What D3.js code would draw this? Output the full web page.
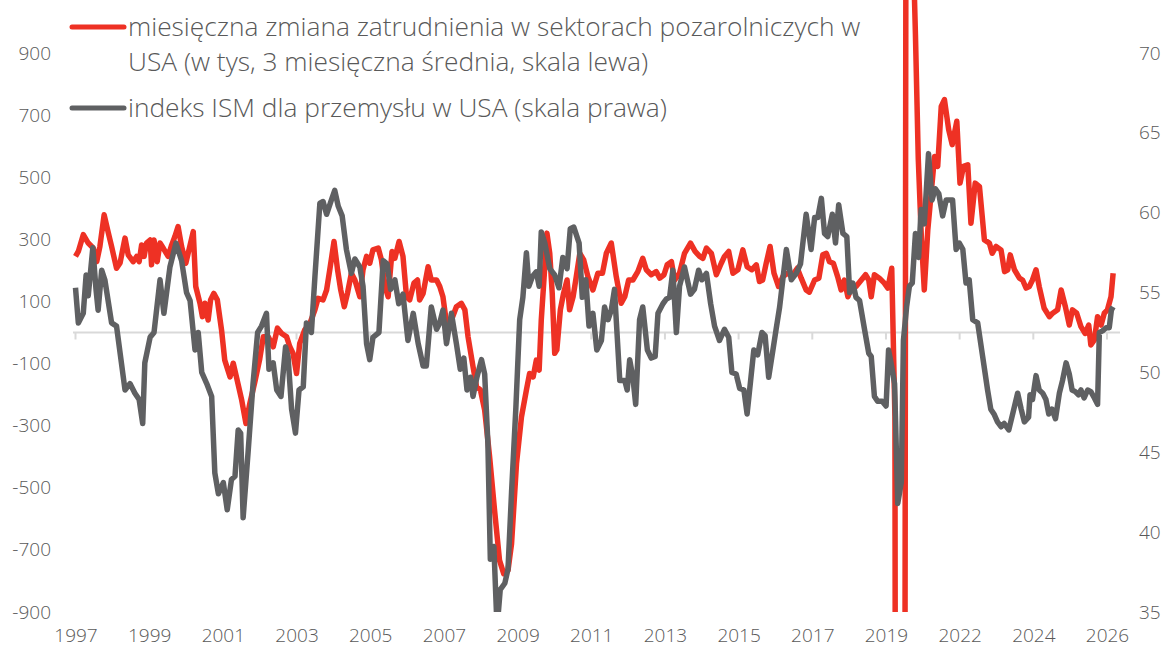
<!DOCTYPE html>
<html lang="pl">
<head>
<meta charset="UTF-8">
<title>Zatrudnienie vs ISM</title>
<script src="https://d3js.org/d3.v7.min.js"></script>
<style>
  body { margin: 0; background: #fff; }
  text { font-family: "Open Sans", Lato, sans-serif; font-weight: 300; fill: #595959; }
  .tick text { font-size: 19px; }
  .legend text { font-size: 26.3px; }
</style>
</head>
<body>
<div id="chart"></div>
<script>
// DATA (decimal year, value)
// monthly change of nonfarm payrolls, 3-month average, thousands (left scale)
const payrolls = [
  [1997.00, 245], [1997.08, 261], [1997.22, 315], [1997.36, 288], [1997.50, 272], [1997.60, 228],
  [1997.69, 277], [1997.81, 379], [1997.93, 320], [1998.02, 277], [1998.16, 207], [1998.26, 224],
  [1998.40, 304], [1998.49, 250], [1998.63, 228], [1998.73, 245], [1998.80, 228], [1998.87, 282],
  [1998.94, 245], [1999.01, 288], [1999.11, 298], [1999.15, 218], [1999.22, 298], [1999.31, 228],
  [1999.39, 288], [1999.48, 272], [1999.62, 245], [1999.72, 282], [1999.81, 309], [1999.90, 341],
  [2000.00, 277], [2000.12, 223], [2000.22, 272], [2000.33, 325], [2000.40, 148], [2000.52, 94],
  [2000.59, 51], [2000.66, 94], [2000.75, 40], [2000.82, 105], [2000.91, 126], [2001.01, 105],
  [2001.13, 8], [2001.22, -89], [2001.37, -143], [2001.46, -99], [2001.55, -143], [2001.70, -218],
  [2001.82, -293], [2001.93, -228], [2002.07, -160], [2002.21, -85], [2002.31, -14], [2002.45, -14],
  [2002.59, -46], [2002.71, 14], [2002.83, -3], [2002.97, -14], [2003.06, -46], [2003.15, -67],
  [2003.25, -132], [2003.34, -35], [2003.48, 8], [2003.63, 30], [2003.77, 73], [2003.86, 110],
  [2004.00, 105], [2004.10, 137], [2004.19, 202], [2004.31, 293], [2004.41, 202], [2004.50, 137],
  [2004.60, 83], [2004.69, 126], [2004.80, 191], [2004.90, 169], [2005.04, 115], [2005.13, 202],
  [2005.23, 245], [2005.32, 223], [2005.41, 266], [2005.56, 272], [2005.65, 234], [2005.75, 148],
  [2005.84, 115], [2005.95, 261], [2006.03, 239], [2006.15, 293], [2006.26, 245], [2006.36, 115],
  [2006.45, 105], [2006.57, 159], [2006.67, 169], [2006.73, 105], [2006.83, 126], [2006.97, 212],
  [2007.06, 169], [2007.21, 169], [2007.30, 148], [2007.39, 115], [2007.49, 30], [2007.63, 40],
  [2007.77, 83], [2007.91, 94], [2008.01, 73], [2008.10, -14], [2008.24, -110], [2008.34, -175],
  [2008.45, -185], [2008.57, -250], [2008.71, -401], [2008.85, -573], [2008.99, -734], [2009.11, -777],
  [2009.23, -766], [2009.33, -680], [2009.47, -422], [2009.61, -272], [2009.75, -185], [2009.84, -132],
  [2009.94, -143], [2010.03, -89], [2010.11, -121], [2010.17, 40], [2010.27, 212], [2010.33, 320],
  [2010.41, 255], [2010.48, 126], [2010.55, -67], [2010.61, -56], [2010.71, 73], [2010.80, 126],
  [2010.90, 169], [2010.97, 73], [2011.07, 115], [2011.16, 180], [2011.26, 255], [2011.37, 234],
  [2011.49, 180], [2011.63, 137], [2011.77, 191], [2011.90, 191], [2012.01, 255], [2012.15, 288],
  [2012.29, 180], [2012.43, 94], [2012.53, 115], [2012.64, 169], [2012.76, 169], [2012.90, 196],
  [2013.04, 239], [2013.14, 202], [2013.28, 186], [2013.42, 196], [2013.52, 175], [2013.64, 186],
  [2013.73, 218], [2013.85, 228], [2013.94, 169], [2014.08, 191], [2014.22, 255], [2014.39, 288],
  [2014.52, 261], [2014.65, 245], [2014.74, 239], [2014.84, 272], [2014.98, 255], [2015.12, 186],
  [2015.26, 223], [2015.35, 245], [2015.47, 261], [2015.59, 191], [2015.73, 202], [2015.87, 266],
  [2015.99, 212], [2016.12, 202], [2016.25, 218], [2016.34, 164], [2016.43, 169], [2016.53, 223],
  [2016.64, 277], [2016.75, 191], [2016.88, 148], [2017.00, 180], [2017.14, 191], [2017.28, 186],
  [2017.41, 207], [2017.52, 175], [2017.66, 137], [2017.75, 130], [2017.90, 169], [2018.02, 175],
  [2018.13, 250], [2018.23, 255], [2018.32, 228], [2018.43, 223], [2018.55, 180], [2018.65, 137],
  [2018.74, 169], [2018.84, 115], [2018.96, 148], [2019.07, 148], [2019.22, 169], [2019.34, 186],
  [2019.43, 169], [2019.50, 115], [2019.59, 186], [2019.73, 175], [2019.87, 159], [2019.97, 143],
  [2020.08, 207], [2020.17, -270], [2020.25, -7200], [2020.33, -6370], [2020.42, -4300], [2020.50, 3100],
  [2020.58, 2670], [2020.67, 1300], [2020.75, 960], [2020.83, 560], [2020.92, 300], [2021.00, 137],
  [2021.10, 331], [2021.29, 567], [2021.38, 535], [2021.48, 728], [2021.57, 750], [2021.69, 653],
  [2021.79, 605], [2021.92, 680], [2022.01, 481], [2022.11, 535], [2022.23, 540], [2022.32, 352],
  [2022.44, 481], [2022.56, 470], [2022.70, 298], [2022.84, 288], [2022.92, 255], [2023.03, 277],
  [2023.17, 266], [2023.27, 196], [2023.36, 202], [2023.43, 250], [2023.55, 202], [2023.69, 175],
  [2023.78, 169], [2023.88, 143], [2023.97, 148], [2024.06, 169], [2024.16, 202], [2024.25, 148],
  [2024.39, 78], [2024.54, 51], [2024.63, 62], [2024.77, 73], [2024.87, 137], [2024.99, 83],
  [2025.10, 24], [2025.19, 73], [2025.31, 62], [2025.43, 19], [2025.55, -3], [2025.65, 24],
  [2025.71, -40], [2025.81, -24], [2025.90, 51], [2026.00, 24], [2026.09, 62], [2026.18, 73],
  [2026.28, 115], [2026.34, 191]
];

// ISM manufacturing index (right scale)
const ism = [
  [1997.00, 55.3], [1997.08, 53.1], [1997.22, 53.7], [1997.30, 56.1], [1997.36, 54.8], [1997.49, 57.8],
  [1997.58, 55.2], [1997.64, 53.9], [1997.74, 56.4], [1997.83, 55.8], [1998.02, 53.1], [1998.16, 52.9],
  [1998.40, 48.9], [1998.54, 49.3], [1998.68, 48.7], [1998.80, 48.3], [1998.90, 46.8], [1998.96, 50.6],
  [1999.11, 52.2], [1999.22, 52.5], [1999.39, 55.8], [1999.50, 53.7], [1999.67, 56.6], [1999.84, 58.1],
  [2000.00, 57.0], [2000.14, 55.0], [2000.24, 54.5], [2000.38, 51.4], [2000.47, 52.5], [2000.57, 50.0],
  [2000.71, 49.3], [2000.85, 48.5], [2000.94, 43.7], [2001.04, 42.4], [2001.18, 43.1], [2001.29, 41.4],
  [2001.41, 43.3], [2001.51, 43.5], [2001.60, 46.4], [2001.67, 46.2], [2001.74, 40.9], [2001.88, 45.0],
  [2002.02, 49.3], [2002.15, 52.5], [2002.26, 52.9], [2002.40, 53.7], [2002.47, 50.2], [2002.59, 50.6],
  [2002.69, 48.9], [2002.81, 48.5], [2002.94, 51.6], [2003.01, 51.0], [2003.11, 47.7], [2003.22, 46.2],
  [2003.32, 48.9], [2003.44, 49.1], [2003.53, 53.1], [2003.67, 52.5], [2003.77, 56.0], [2003.91, 60.6],
  [2004.00, 60.7], [2004.10, 59.9], [2004.22, 60.7], [2004.33, 61.4], [2004.43, 60.4], [2004.54, 59.8],
  [2004.66, 57.7], [2004.80, 56.2], [2004.90, 57.1], [2005.04, 56.6], [2005.13, 55.4], [2005.23, 51.8],
  [2005.32, 50.8], [2005.41, 52.2], [2005.58, 52.5], [2005.70, 57.0], [2005.81, 56.8], [2005.91, 55.2],
  [2006.03, 55.8], [2006.14, 54.3], [2006.26, 54.9], [2006.40, 52.0], [2006.55, 53.7], [2006.69, 51.8],
  [2006.83, 50.4], [2006.92, 50.4], [2007.06, 54.1], [2007.21, 52.7], [2007.30, 53.1], [2007.39, 53.9],
  [2007.49, 51.8], [2007.63, 53.7], [2007.77, 51.8], [2007.88, 50.2], [2007.98, 50.9], [2008.07, 48.9],
  [2008.17, 49.7], [2008.24, 48.5], [2008.35, 49.7], [2008.48, 50.8], [2008.57, 49.9], [2008.66, 45.6],
  [2008.73, 38.3], [2008.83, 39.1], [2008.92, 34.0], [2009.01, 36.4], [2009.14, 36.8], [2009.23, 37.7],
  [2009.33, 42.5], [2009.45, 47.7], [2009.56, 53.3], [2009.65, 54.7], [2009.75, 57.5], [2009.82, 55.4],
  [2009.92, 56.0], [2010.03, 56.3], [2010.11, 55.4], [2010.17, 58.8], [2010.27, 58.1], [2010.41, 56.5],
  [2010.55, 56.1], [2010.67, 55.3], [2010.78, 57.2], [2010.90, 56.5], [2010.99, 59.0], [2011.09, 59.1],
  [2011.24, 58.1], [2011.33, 54.7], [2011.43, 55.8], [2011.52, 52.9], [2011.63, 53.7], [2011.74, 51.4],
  [2011.87, 52.0], [2011.96, 54.1], [2012.06, 53.3], [2012.15, 53.9], [2012.24, 55.2], [2012.39, 49.5],
  [2012.53, 49.5], [2012.60, 48.9], [2012.67, 50.8], [2012.76, 49.7], [2012.84, 48.0], [2012.95, 53.3],
  [2013.04, 54.1], [2013.17, 51.4], [2013.28, 50.9], [2013.39, 51.0], [2013.47, 53.7], [2013.61, 54.3],
  [2013.71, 54.6], [2013.80, 54.7], [2013.89, 56.4], [2013.99, 52.5], [2014.08, 55.4], [2014.22, 56.6],
  [2014.39, 54.9], [2014.50, 55.2], [2014.62, 56.4], [2014.71, 55.8], [2014.84, 56.2], [2014.96, 54.3],
  [2015.07, 52.9], [2015.21, 52.0], [2015.35, 52.7], [2015.47, 52.2], [2015.56, 50.0], [2015.68, 49.9],
  [2015.78, 49.0], [2015.90, 48.9], [2015.99, 47.4], [2016.09, 49.5], [2016.18, 51.4], [2016.29, 51.1],
  [2016.41, 52.5], [2016.50, 52.3], [2016.60, 49.7], [2016.72, 51.4], [2016.81, 52.7], [2016.91, 54.1],
  [2017.00, 55.8], [2017.10, 57.7], [2017.24, 55.8], [2017.38, 56.2], [2017.50, 56.8], [2017.66, 59.9],
  [2017.75, 58.5], [2017.80, 57.7], [2017.90, 59.7], [2017.99, 59.7], [2018.09, 60.9], [2018.18, 58.7],
  [2018.27, 58.5], [2018.40, 59.9], [2018.49, 58.1], [2018.58, 60.5], [2018.70, 58.7], [2018.81, 58.5],
  [2018.89, 55.0], [2018.98, 55.6], [2019.07, 54.7], [2019.17, 54.5], [2019.31, 52.7], [2019.43, 51.2],
  [2019.50, 51.0], [2019.59, 48.5], [2019.68, 48.2], [2019.81, 48.2], [2019.92, 47.9], [2019.99, 51.4],
  [2020.06, 50.6], [2020.16, 49.3], [2020.25, 41.8], [2020.35, 43.1], [2020.41, 52.0], [2020.50, 54.1],
  [2020.58, 55.4], [2020.66, 55.6], [2020.75, 58.7], [2020.84, 57.2], [2020.91, 60.2], [2021.00, 59.3],
  [2021.12, 63.7], [2021.22, 60.8], [2021.31, 61.5], [2021.41, 61.2], [2021.52, 59.8], [2021.62, 60.8],
  [2021.71, 60.8], [2021.80, 60.8], [2021.90, 57.7], [2021.99, 58.1], [2022.09, 57.7], [2022.18, 55.6],
  [2022.27, 55.8], [2022.37, 53.3], [2022.51, 53.1], [2022.65, 51.0], [2022.79, 48.9], [2022.88, 47.7],
  [2022.97, 47.4], [2023.07, 46.9], [2023.17, 46.6], [2023.26, 46.8], [2023.39, 46.4], [2023.50, 47.4],
  [2023.64, 48.7], [2023.74, 47.7], [2023.83, 46.9], [2023.95, 47.2], [2023.99, 48.6], [2024.06, 48.3],
  [2024.16, 49.8], [2024.25, 48.9], [2024.35, 48.7], [2024.44, 48.3], [2024.52, 47.4], [2024.61, 47.7],
  [2024.71, 47.1], [2024.82, 48.7], [2024.91, 49.5], [2025.01, 50.6], [2025.10, 49.9], [2025.18, 48.9],
  [2025.27, 48.8], [2025.36, 48.6], [2025.43, 48.9], [2025.52, 48.4], [2025.62, 48.9], [2025.71, 48.8],
  [2025.81, 48.4], [2025.90, 48.0], [2025.95, 52.5], [2026.04, 52.6], [2026.14, 52.8], [2026.23, 52.8],
  [2026.29, 53.9], [2026.34, 54.1]
];

const leftTicks = [-900, -700, -500, -300, -100, 100, 300, 500, 700, 900];
const rightTicks = [35, 40, 45, 50, 55, 60, 65, 70];
const yearLabels = ["1997", "1999", "2001", "2003", "2005", "2007", "2009", "2011",
                    "2013", "2015", "2017", "2019", "2022", "2024", "2026"];
const labelEveryMonths = 25;
const legendLabels = [
  ["miesięczna zmiana zatrudnienia w sektorach pozarolniczych w",
   "USA (w tys, 3 miesięczna średnia, skala lewa)"],
  ["indeks ISM dla przemysłu w USA (skala prawa)"]
];

// LAYOUT
const width = 1170, height = 653;
const red = "#ee3124", grey = "#5f6062";

const svg = d3.select("#chart").append("svg")
  .attr("width", width).attr("height", height);

const x = d3.scaleLinear()
  .domain([1997, 1997 + (yearLabels.length - 1) * labelEveryMonths / 12])
  .range([75.5, 1107]);
const yL = d3.scaleLinear().domain([-900, 900]).range([612, 53]);
const yR = d3.scaleLinear().domain([35, 70]).range([612, 53]);

// axes labels (plain hyphen for negatives, like the original)
svg.append("g")
  .attr("transform", "translate(53,0)")
  .call(d3.axisLeft(yL).tickValues(leftTicks).tickSize(0).tickPadding(2)
    .tickFormat(d => String(d)))
  .call(g => g.select(".domain").remove());

svg.append("g")
  .attr("transform", "translate(1137,0)")
  .call(d3.axisRight(yR).tickValues(rightTicks).tickSize(0).tickPadding(2))
  .call(g => g.select(".domain").remove());

const tickDates = yearLabels.map((d, i) => 1997 + i * labelEveryMonths / 12);

// zero line with small tick marks
svg.append("line")
  .attr("x1", 73).attr("x2", 1120)
  .attr("y1", yL(0)).attr("y2", yL(0))
  .attr("stroke", "#d9d9d9").attr("stroke-width", 2);
svg.append("g").selectAll("line")
  .data(tickDates)
  .join("line")
  .attr("x1", d => x(d)).attr("x2", d => x(d))
  .attr("y1", yL(0)).attr("y2", yL(0) + 7)
  .attr("stroke", "#d9d9d9").attr("stroke-width", 2);

// year labels at the bottom
svg.append("g")
  .attr("transform", "translate(0,628)")
  .call(d3.axisBottom(x).tickValues(tickDates).tickSize(0).tickPadding(0)
    .tickFormat((d, i) => yearLabels[i]))
  .call(g => g.select(".domain").remove());

// LINES
svg.append("clipPath").attr("id", "plot")
  .append("rect").attr("x", 60).attr("y", 0).attr("width", 1070).attr("height", 612);

const lineL = d3.line().x(d => x(d[0])).y(d => yL(d[1]));
const lineR = d3.line().x(d => x(d[0])).y(d => yR(d[1]));

const plot = svg.append("g").attr("clip-path", "url(#plot)");
plot.append("path")
  .attr("d", lineL(payrolls))
  .attr("fill", "none").attr("stroke", red)
  .attr("stroke-width", 5.5).attr("stroke-linejoin", "round");
plot.append("path")
  .attr("d", lineR(ism))
  .attr("fill", "none").attr("stroke", grey)
  .attr("stroke-width", 5.5).attr("stroke-linejoin", "round");

// LEGEND
const legend = svg.append("g").attr("class", "legend");
const legendRows = [
  { color: red, y: 27, lines: legendLabels[0] },
  { color: grey, y: 108, lines: legendLabels[1] }
];
legendRows.forEach(r => {
  legend.append("line")
    .attr("x1", 72).attr("x2", 124)
    .attr("y1", r.y).attr("y2", r.y)
    .attr("stroke", r.color).attr("stroke-width", 5).attr("stroke-linecap", "round");
  r.lines.forEach((t, i) => {
    legend.append("text")
      .attr("x", 128).attr("y", r.y + i * 35)
      .attr("dy", "0.35em")
      .text(t);
  });
});
</script>
</body>
</html>
